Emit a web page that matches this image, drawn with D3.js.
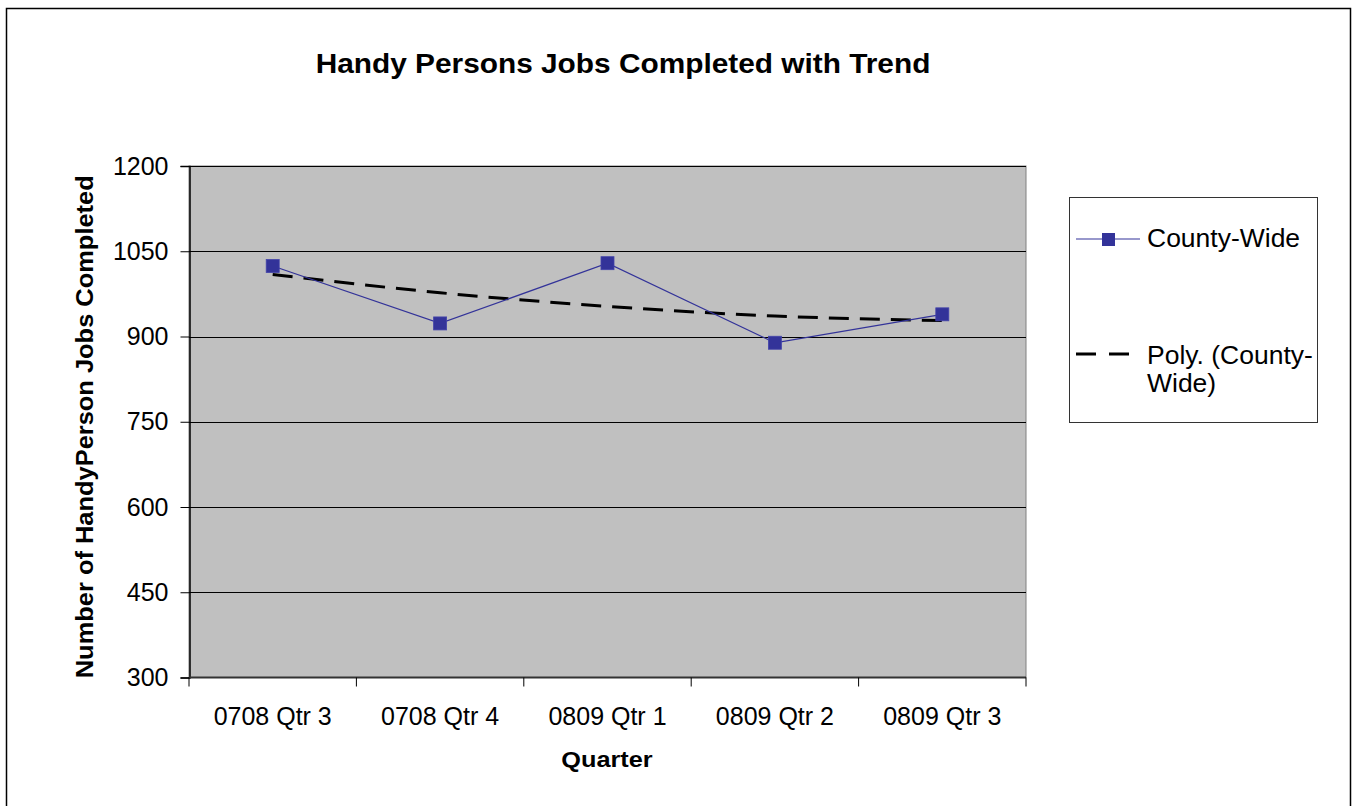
<!DOCTYPE html>
<html>
<head>
<meta charset="utf-8">
<script src="https://cdn.jsdelivr.net/npm/d3@7"></script>
<style>
  html, body { margin: 0; padding: 0; background: #fff; }
  svg { display: block; font-family: "Liberation Sans", Arial, sans-serif; }
</style>
</head>
<body>
<svg id="chart" width="1353" height="806"></svg>
<script>
// ---- data ----
const categories = ["0708 Qtr 3", "0708 Qtr 4", "0809 Qtr 1", "0809 Qtr 2", "0809 Qtr 3"];
const countyWide = [1024, 923, 1029, 889, 939];
const polyTrend = [1009, 977, 953, 936, 928];
const yTicks = [300, 450, 600, 750, 900, 1050, 1200];
const titleText = "Handy Persons Jobs Completed with Trend";
const xTitle = "Quarter";
const yTitle = "Number of HandyPerson Jobs Completed";
const legendLabels = ["County-Wide", "Poly. (County-", "Wide)"];

// ---- layout ----
const plot = { left: 189, top: 166, right: 1026, bottom: 677.5 };
const blue = "#333399";

const svg = d3.select("#chart");

// text helper with horizontal stretch
function label(parent, x, y, txt, size, opts = {}) {
  const sx = opts.sx || 1;
  const rot = opts.rotate || 0;
  const g = parent.append("g").attr("transform", `translate(${x},${y}) rotate(${rot}) scale(${sx},1)`);
  g.append("text").attr("x", 0).attr("y", 0)
    .attr("text-anchor", opts.anchor || "start")
    .attr("font-size", size)
    .attr("font-weight", opts.weight || "normal")
    .attr("fill", "#000").text(txt);
  return g;
}

// outer frame
svg.append("rect").attr("x", 6.5).attr("y", 8.5).attr("width", 1344).attr("height", 810)
  .attr("fill", "#fff").attr("stroke", "#000").attr("stroke-width", 1.5);

const x = d3.scaleBand().domain(categories).range([plot.left, plot.right]).padding(0);
const y = d3.scaleLinear().domain([300, 1200]).range([plot.bottom, plot.top]);
const cx = d => x(d) + x.bandwidth() / 2;

// plot background
svg.append("rect").attr("x", plot.left).attr("y", plot.top)
  .attr("width", plot.right - plot.left).attr("height", plot.bottom - plot.top)
  .attr("fill", "#c0c0c0").attr("stroke", "#808080").attr("stroke-width", 1);

// gridlines
svg.append("g").selectAll("line").data(yTicks.filter(t => t > 300)).join("line")
  .attr("x1", plot.left).attr("x2", plot.right)
  .attr("y1", d => Math.round(y(d)) + 0.5).attr("y2", d => Math.round(y(d)) + 0.5)
  .attr("stroke", "#000").attr("stroke-width", 1);

// y axis
const yAxis = d3.axisLeft(y).tickValues(yTicks).tickSize(9).tickPadding(12).tickFormat(d3.format("d"));
const gy = svg.append("g").attr("transform", `translate(${plot.left + 0.5},0)`).call(yAxis);
gy.select(".domain").attr("stroke", "#000").attr("stroke-width", 1.5);
gy.selectAll(".tick line").attr("stroke", "#000");
gy.selectAll(".tick text").attr("font-size", 25).attr("fill", "#000")
  .attr("font-family", "Liberation Sans, Arial, sans-serif");

// x axis (ticks at category boundaries)
const gx = svg.append("g").attr("transform", `translate(0,${plot.bottom})`);
gx.append("line").attr("x1", plot.left).attr("x2", plot.right).attr("y1", 0).attr("y2", 0)
  .attr("stroke", "#333").attr("stroke-width", 2);
const bounds = categories.map(c => x(c)).concat([plot.right]);
gx.selectAll("line.tk").data(bounds).join("line").attr("class", "tk")
  .attr("x1", d => d).attr("x2", d => d).attr("y1", 0).attr("y2", 9)
  .attr("stroke", "#000").attr("stroke-width", 1);
gx.selectAll("text").data(categories).join("text")
  .attr("x", d => cx(d)).attr("y", 47).attr("text-anchor", "middle")
  .attr("font-size", 25).attr("fill", "#000").text(d => d);

// trend (polynomial) line
const trendLine = d3.line().x((d, i) => cx(categories[i])).y(d => y(d)).curve(d3.curveNatural);
svg.append("path").datum(polyTrend).attr("d", trendLine)
  .attr("fill", "none").attr("stroke", "#000").attr("stroke-width", 3)
  .attr("stroke-dasharray", "20,11");

// data line
const dataLine = d3.line().x((d, i) => cx(categories[i])).y(d => y(d));
svg.append("path").datum(countyWide).attr("d", dataLine)
  .attr("fill", "none").attr("stroke", blue).attr("stroke-width", 1.2);
svg.append("g").selectAll("rect").data(countyWide).join("rect")
  .attr("x", (d, i) => cx(categories[i]) - 6.5).attr("y", d => y(d) - 6.5)
  .attr("width", 13).attr("height", 13).attr("fill", blue).attr("stroke", "#4444aa").attr("stroke-width", 0.8);

// titles
label(svg, 623, 73, titleText, 27, { anchor: "middle", weight: "bold", sx: 1.105 });
label(svg, 607, 767, xTitle, 22, { anchor: "middle", weight: "bold", sx: 1.15 });
label(svg, 93, (plot.top + plot.bottom) / 2 + 5, yTitle, 24, { anchor: "middle", weight: "bold", sx: 1.06, rotate: -90 });

// legend
const lg = svg.append("g");
lg.append("rect").attr("x", 1069.5).attr("y", 197.5).attr("width", 248).attr("height", 225)
  .attr("fill", "#fff").attr("stroke", "#333").attr("stroke-width", 1);
lg.append("line").attr("x1", 1076).attr("x2", 1140).attr("y1", 239).attr("y2", 239)
  .attr("stroke", blue).attr("stroke-width", 1.2);
lg.append("rect").attr("x", 1102).attr("y", 233).attr("width", 13).attr("height", 13).attr("fill", blue);
label(lg, 1147, 247, legendLabels[0], 25, { sx: 1.06 });
lg.append("line").attr("x1", 1076).attr("x2", 1130).attr("y1", 354).attr("y2", 354)
  .attr("stroke", "#000").attr("stroke-width", 3).attr("stroke-dasharray", "20,13");
label(lg, 1147, 364, legendLabels[1], 25, { sx: 1.06 });
label(lg, 1147, 392, legendLabels[2], 25, { sx: 1.06 });
</script>
</body>
</html>
